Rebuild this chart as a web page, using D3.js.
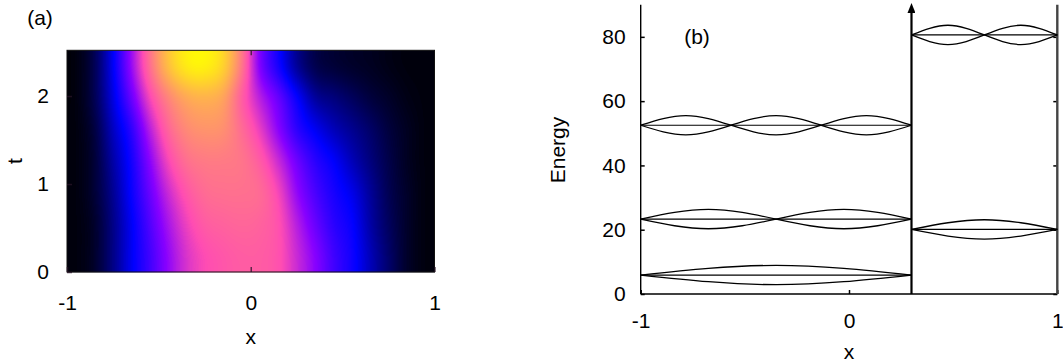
<!DOCTYPE html>
<html>
<head>
<meta charset="utf-8">
<script src="https://cdn.jsdelivr.net/npm/d3@7"></script>
<style>
  body { margin: 0; background: #fff; }
  svg text { font-family: "Liberation Sans", Arial, sans-serif; fill: #000; }
</style>
</head>
<body>
<svg id="chart" width="1063" height="362"></svg>
<script>
// ---- panel (a): density map, samples at cell centres ----
const heatX = [-0.95, -0.85, -0.75, -0.65, -0.55, -0.45, -0.35, -0.25, -0.15, -0.05,
               0.05, 0.15, 0.25, 0.35, 0.45, 0.55, 0.65, 0.75, 0.85, 0.95];
const heatT = [0.18, 0.54, 0.9, 1.26, 1.62, 1.98, 2.34];
const heatRows = [
  [0.01, 0.04, 0.13, 0.24, 0.33, 0.43, 0.52, 0.57, 0.59, 0.60, 0.60, 0.58, 0.50, 0.42, 0.33, 0.27, 0.18, 0.10, 0.04, 0.01],
  [0.01, 0.04, 0.13, 0.24, 0.35, 0.46, 0.55, 0.60, 0.61, 0.62, 0.61, 0.58, 0.48, 0.38, 0.30, 0.26, 0.16, 0.09, 0.04, 0.01],
  [0.01, 0.05, 0.14, 0.26, 0.38, 0.50, 0.59, 0.63, 0.64, 0.64, 0.63, 0.56, 0.43, 0.34, 0.28, 0.23, 0.15, 0.08, 0.04, 0.01],
  [0.01, 0.05, 0.16, 0.27, 0.42, 0.56, 0.64, 0.66, 0.66, 0.65, 0.60, 0.50, 0.39, 0.30, 0.25, 0.18, 0.12, 0.07, 0.03, 0.01],
  [0.01, 0.06, 0.19, 0.30, 0.48, 0.62, 0.69, 0.71, 0.70, 0.63, 0.54, 0.42, 0.30, 0.24, 0.18, 0.14, 0.10, 0.06, 0.03, 0.01],
  [0.01, 0.08, 0.22, 0.38, 0.56, 0.68, 0.75, 0.77, 0.74, 0.60, 0.48, 0.38, 0.26, 0.15, 0.12, 0.09, 0.06, 0.04, 0.02, 0.01],
  [0.01, 0.08, 0.24, 0.44, 0.64, 0.80, 0.89, 0.90, 0.84, 0.66, 0.40, 0.27, 0.14, 0.07, 0.05, 0.04, 0.03, 0.02, 0.01, 0.01]
];
const aXTicks = [-1, 0, 1];
const aTTicks = [0, 1, 2];

// ---- panel (b): well levels ----
const levelEnergy = [5.9, 23.3, 52.5, 20.1, 80.6];
const levelNodes = [
  [-1, 0.3],
  [-1, -0.35, 0.3],
  [-1, -0.567, -0.133, 0.3],
  [0.3, 1],
  [0.3, 0.65, 1]
];
const levelAmp = [3, 3, 3, 3, 3];
const barrierX = 0.3;
const bXTicks = [-1, 0, 1];
const bYTicks = [0, 20, 40, 60, 80];

const svg = d3.select('#chart');
const FONT = 21;
const fmt = d => String(d);

// gnuplot rgbformulae 30,31,32
function palette(v) {
  const c = x => Math.max(0, Math.min(1, x));
  const r = c(v / 0.32 - 0.78125);
  const g = c(2 * v - 0.84);
  let b;
  if (v < 0.25) b = 4 * v;
  else if (v < 0.42) b = 1;
  else if (v < 0.92) b = -2 * v + 1.84;
  else b = v / 0.08 - 11.5;
  return [r, g, c(b)].map(k => Math.round(k * 255));
}

// ---------- panel (a) ----------
const xA = d3.scaleLinear().domain([-1, 1]).range([67, 434.5]);
const tA = d3.scaleLinear().domain([0, 2.52]).range([272, 50.3]);
const gA = svg.append('g');

(function drawHeat() {
  const w = Math.round(xA(1) - xA(-1));
  const h = Math.round(tA(0) - tA(2.52));
  const small = document.createElement('canvas');
  small.width = heatX.length; small.height = heatT.length;
  const sctx = small.getContext('2d');
  const img = sctx.createImageData(heatX.length, heatT.length);
  heatRows.forEach((row, j) => {
    const py = heatT.length - 1 - j;
    row.forEach((v, i) => {
      const k = (py * heatX.length + i) * 4;
      const gv = Math.round(v * 255);
      img.data[k] = gv; img.data[k + 1] = gv; img.data[k + 2] = gv; img.data[k + 3] = 255;
    });
  });
  sctx.putImageData(img, 0, 0);
  const big = document.createElement('canvas');
  big.width = w; big.height = h;
  const bctx = big.getContext('2d');
  bctx.imageSmoothingEnabled = true;
  bctx.imageSmoothingQuality = 'high';
  bctx.drawImage(small, 0, 0, w, h);
  const data = bctx.getImageData(0, 0, w, h);
  for (let k = 0; k < data.data.length; k += 4) {
    const [r, g, b] = palette(data.data[k] / 255);
    data.data[k] = r; data.data[k + 1] = g; data.data[k + 2] = b; data.data[k + 3] = 255;
  }
  bctx.putImageData(data, 0, 0);
  gA.append('image')
    .attr('x', xA(-1)).attr('y', tA(2.52))
    .attr('width', w).attr('height', h)
    .attr('preserveAspectRatio', 'none')
    .attr('href', big.toDataURL());
})();

gA.append('rect')
  .attr('x', xA(-1)).attr('y', tA(2.52))
  .attr('width', xA(1) - xA(-1)).attr('height', tA(0) - tA(2.52))
  .attr('fill', 'none').attr('stroke', '#111').attr('stroke-width', 1);

function styleAxis(sel, tickColor) {
  sel.select('.domain').remove();
  sel.selectAll('.tick line').attr('stroke', tickColor).attr('stroke-width', 1.5);
  sel.selectAll('.tick text').attr('font-size', FONT).attr('fill', '#000');
}

gA.append('g').attr('transform', `translate(0,${tA(0)})`)
  .call(d3.axisBottom(xA).tickValues(aXTicks).tickFormat(fmt).tickSizeInner(-5).tickSizeOuter(0).tickPadding(23))
  .call(s => styleAxis(s, 'rgba(40,20,40,0.75)'));
gA.append('g').attr('transform', `translate(0,${tA(2.52)})`)
  .call(d3.axisTop(xA).tickValues([0]).tickFormat('').tickSizeInner(-5).tickSizeOuter(0))
  .call(s => styleAxis(s, 'rgba(40,20,40,0.75)'));
gA.append('g').attr('transform', `translate(${xA(-1)},0)`)
  .call(d3.axisLeft(tA).tickValues(aTTicks).tickFormat(fmt).tickSizeInner(-5).tickSizeOuter(0).tickPadding(18))
  .call(s => styleAxis(s, 'rgba(40,20,40,0.75)'));

gA.append('text').attr('x', 40).attr('y', 25).attr('text-anchor', 'middle')
  .attr('font-size', FONT).text('(a)');
gA.append('text').attr('x', xA(0)).attr('y', 344).attr('text-anchor', 'middle')
  .attr('font-size', FONT).text('x');
gA.append('text').attr('transform', `translate(22,${(tA(0) + tA(2.52)) / 2}) rotate(-90)`)
  .attr('text-anchor', 'middle').attr('font-size', FONT).text('t');

// ---------- panel (b) ----------
const xB = d3.scaleLinear().domain([-1, 1]).range([640.7, 1057.3]);
const yB = d3.scaleLinear().domain([0, 90]).range([294, 4.7]);
const gB = svg.append('g');

gB.append('g').attr('transform', `translate(0,${yB(0)})`)
  .call(d3.axisBottom(xB).tickValues(bXTicks).tickFormat(fmt).tickSizeInner(-4).tickSizeOuter(0).tickPadding(19))
  .call(s => styleAxis(s, '#000'));
gB.append('g').attr('transform', `translate(${xB(-1)},0)`)
  .call(d3.axisLeft(yB).tickValues(bYTicks).tickFormat(fmt).tickSizeInner(-4).tickSizeOuter(0).tickPadding(15))
  .call(s => styleAxis(s, '#000'));
gB.append('g').attr('transform', `translate(${xB(1)},0)`)
  .call(d3.axisRight(yB).tickValues(bYTicks).tickFormat('').tickSizeInner(-4).tickSizeOuter(0))
  .call(s => styleAxis(s, '#000'));

// frame lines: left axis, bottom axis, right wall
gB.append('line').attr('x1', xB(-1)).attr('x2', xB(-1)).attr('y1', yB(0)).attr('y2', yB(90))
  .attr('stroke', '#000').attr('stroke-width', 1.4);
gB.append('line').attr('x1', xB(-1)).attr('x2', xB(1)).attr('y1', yB(0)).attr('y2', yB(0))
  .attr('stroke', '#000').attr('stroke-width', 1.4);
gB.append('line').attr('x1', xB(1)).attr('x2', xB(1)).attr('y1', yB(0)).attr('y2', yB(90))
  .attr('stroke', '#444').attr('stroke-width', 2.4);

// barrier arrow
svg.append('defs').append('marker')
  .attr('id', 'arrowhead').attr('viewBox', '0 0 10 8')
  .attr('refX', 0).attr('refY', 4).attr('markerWidth', 10).attr('markerHeight', 8)
  .attr('markerUnits', 'userSpaceOnUse').attr('orient', 'auto')
  .append('path').attr('d', 'M0,0 L10,4 L0,8 Z').attr('fill', '#000');
gB.append('line')
  .attr('x1', xB(barrierX)).attr('x2', xB(barrierX))
  .attr('y1', yB(0)).attr('y2', 13)
  .attr('stroke', '#000').attr('stroke-width', 2.2)
  .attr('marker-end', 'url(#arrowhead)');

// levels: flat line plus +/- standing-wave envelopes
const waveLine = d3.line().x(d => xB(d[0])).y(d => yB(d[1])).curve(d3.curveNatural);
levelEnergy.forEach((E, i) => {
  const nodes = levelNodes[i];
  const a = nodes[0], b = nodes[nodes.length - 1];
  gB.append('line').attr('x1', xB(a)).attr('x2', xB(b)).attr('y1', yB(E)).attr('y2', yB(E))
    .attr('stroke', '#000').attr('stroke-width', 1.2);
  [1, -1].forEach(sign => {
    const pts = [];
    nodes.forEach((n, k) => {
      pts.push([n, E]);
      if (k < nodes.length - 1) {
        const s = (k % 2 === 0 ? 1 : -1) * sign;
        pts.push([(n + nodes[k + 1]) / 2, E + s * levelAmp[i]]);
      }
    });
    gB.append('path').attr('d', waveLine(pts))
      .attr('fill', 'none').attr('stroke', '#000').attr('stroke-width', 1.3);
  });
});

gB.append('text').attr('x', 697).attr('y', yB(80) + 7).attr('text-anchor', 'middle')
  .attr('font-size', FONT).text('(b)');
gB.append('text').attr('x', xB(0)).attr('y', 359).attr('text-anchor', 'middle')
  .attr('font-size', FONT).text('x');
gB.append('text').attr('transform', `translate(565,150) rotate(-90)`)
  .attr('text-anchor', 'middle').attr('font-size', FONT).text('Energy');
</script>
</body>
</html>
